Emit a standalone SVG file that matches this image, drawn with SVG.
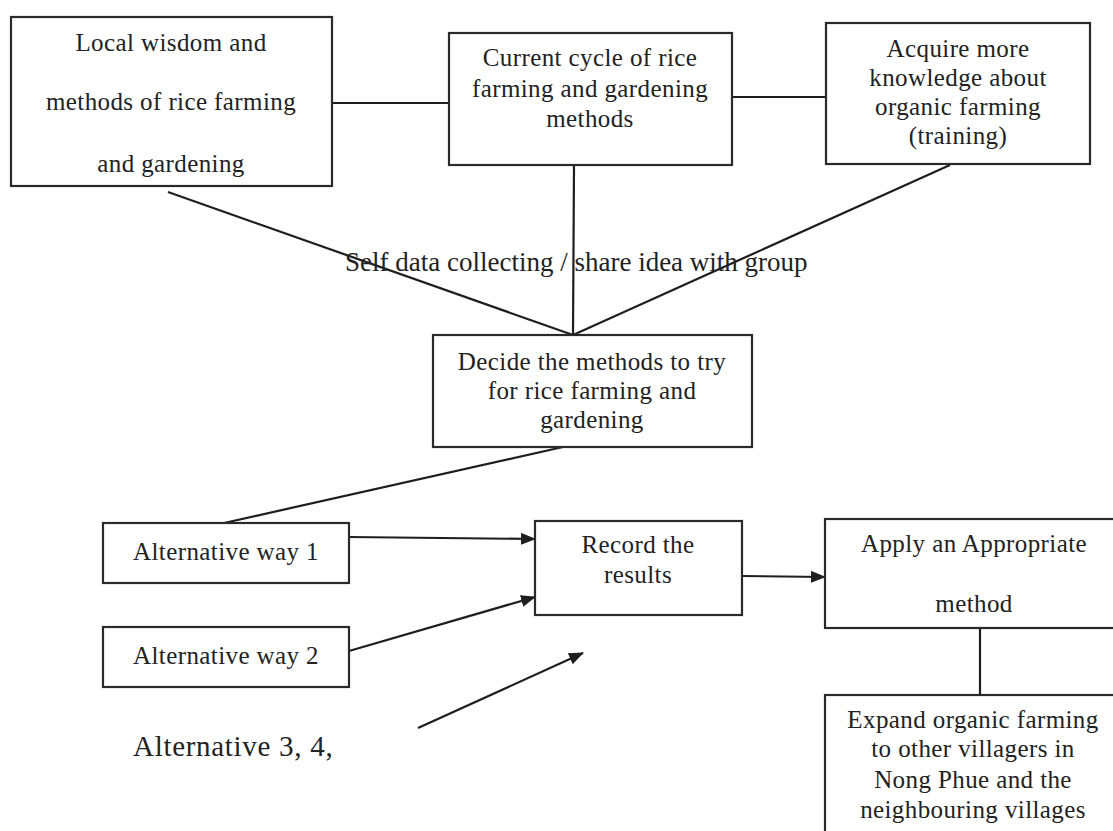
<svg xmlns="http://www.w3.org/2000/svg" width="1113" height="831" viewBox="0 0 1113 831">
  <style>
    .box { fill: #ffffff; stroke: #2a2a2a; stroke-width: 2.2; }
    .lbl { font-family: "Liberation Serif", "Times New Roman", serif; font-size: 25px; fill: #222222; text-anchor: middle; letter-spacing: 0.4px; }
    .free { font-family: "Liberation Serif", "Times New Roman", serif; fill: #222222; }
    .link { fill: none; stroke: #1e1e1e; stroke-width: 2.2; }
  </style>
  <defs>
    <marker id="arrow" markerUnits="userSpaceOnUse" markerWidth="15" markerHeight="12" refX="14" refY="6" orient="auto">
      <path d="M0,0 L15,6 L0,12 Z" fill="#1e1e1e"/>
    </marker>
  </defs>

  <rect width="1113" height="831" fill="#ffffff"/>

  <!-- connectors -->
  <g id="connectors">
    <line class="link" x1="332" y1="103" x2="449" y2="103"/>
    <line class="link" x1="732" y1="97" x2="826" y2="97"/>
    <line class="link" x1="168" y1="192" x2="573" y2="335"/>
    <line class="link" x1="574" y1="165" x2="573" y2="335"/>
    <line class="link" x1="950" y1="165" x2="573" y2="335"/>
    <line class="link" x1="563" y1="447" x2="224" y2="523"/>
    <line class="link" x1="349" y1="537" x2="535" y2="539" marker-end="url(#arrow)"/>
    <line class="link" x1="349" y1="651" x2="535" y2="597" marker-end="url(#arrow)"/>
    <line class="link" x1="418" y1="728" x2="583" y2="653" marker-end="url(#arrow)"/>
    <line class="link" x1="742" y1="576" x2="825" y2="577" marker-end="url(#arrow)"/>
    <line class="link" x1="980" y1="628" x2="980" y2="695"/>
  </g>

  <!-- free-standing labels -->
  <text id="label-self-data" class="free" x="345" y="271" font-size="27">Self data collecting / share idea with group</text>
  <text id="label-alternative-more" class="free" x="133" y="756" font-size="29" letter-spacing="0.7">Alternative 3, 4,</text>

  <g id="node-local-wisdom">
    <rect class="box" x="11" y="17" width="321" height="169"/>
    <text class="lbl" x="171" y="51">Local wisdom and</text>
    <text class="lbl" x="171" y="110">methods of rice farming</text>
    <text class="lbl" x="171" y="172">and gardening</text>
  </g>

  <g id="node-current-cycle">
    <rect class="box" x="449" y="33" width="283" height="132"/>
    <text class="lbl" x="590" y="66">Current cycle of rice</text>
    <text class="lbl" x="590" y="97">farming and gardening</text>
    <text class="lbl" x="590" y="127">methods</text>
  </g>

  <g id="node-acquire-knowledge">
    <rect class="box" x="826" y="23" width="264" height="141"/>
    <text class="lbl" x="958" y="57">Acquire more</text>
    <text class="lbl" x="958" y="86">knowledge about</text>
    <text class="lbl" x="958" y="115">organic farming</text>
    <text class="lbl" x="958" y="144">(training)</text>
  </g>

  <g id="node-decide-methods">
    <rect class="box" x="433" y="335" width="319" height="112"/>
    <text class="lbl" x="592" y="370">Decide the methods to try</text>
    <text class="lbl" x="592" y="399">for rice farming and</text>
    <text class="lbl" x="592" y="428">gardening</text>
  </g>

  <g id="node-alternative-1">
    <rect class="box" x="103" y="523" width="246" height="60"/>
    <text class="lbl" x="226" y="560">Alternative way 1</text>
  </g>

  <g id="node-alternative-2">
    <rect class="box" x="103" y="627" width="246" height="60"/>
    <text class="lbl" x="226" y="664">Alternative way 2</text>
  </g>

  <g id="node-record-results">
    <rect class="box" x="535" y="521" width="207" height="94"/>
    <text class="lbl" x="638" y="553">Record the</text>
    <text class="lbl" x="638" y="583">results</text>
  </g>

  <g id="node-apply-method">
    <rect class="box" x="825" y="519" width="300" height="109"/>
    <text class="lbl" x="974" y="552">Apply an Appropriate</text>
    <text class="lbl" x="974" y="612">method</text>
  </g>

  <g id="node-expand-farming">
    <rect class="box" x="825" y="695" width="300" height="150"/>
    <text class="lbl" x="973" y="728">Expand organic farming</text>
    <text class="lbl" x="973" y="757">to other villagers in</text>
    <text class="lbl" x="973" y="788">Nong Phue and the</text>
    <text class="lbl" x="973" y="818">neighbouring villages</text>
  </g>
</svg>
